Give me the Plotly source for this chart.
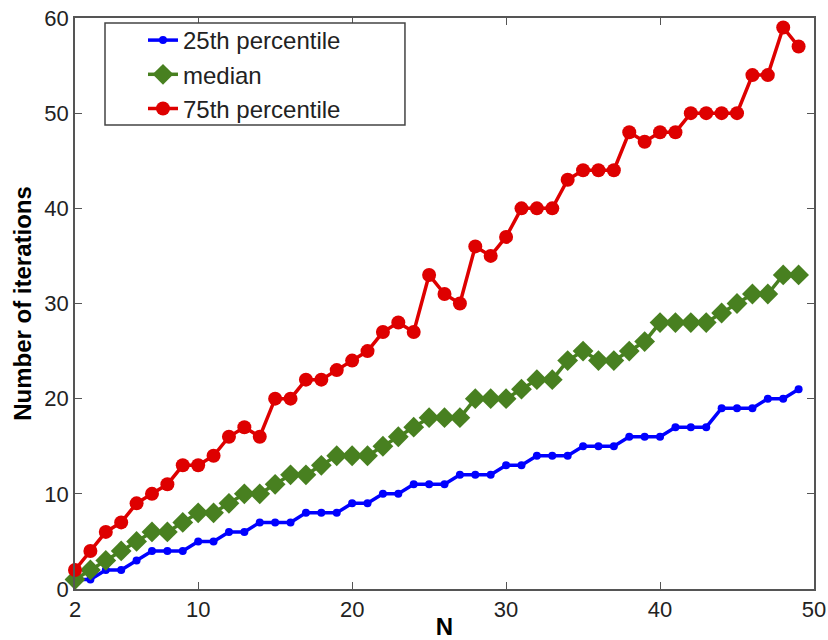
import plotly.graph_objects as go

N = list(range(2, 50))
p25 = [1, 1, 2, 2, 3, 4, 4, 4, 5, 5, 6, 6, 7, 7, 7, 8, 8, 8, 9, 9,
       10, 10, 11, 11, 11, 12, 12, 12, 13, 13, 14, 14, 14, 15, 15, 15, 16, 16,
       16, 17, 17, 17, 19, 19, 19, 20, 20, 21]
median = [1, 2, 3, 4, 5, 6, 6, 7, 8, 8, 9, 10, 10, 11, 12, 12, 13, 14, 14, 14,
          15, 16, 17, 18, 18, 18, 20, 20, 20, 21, 22, 22, 24, 25, 24, 24, 25, 26,
          28, 28, 28, 28, 29, 30, 31, 31, 33, 33]
p75 = [2, 4, 6, 7, 9, 10, 11, 13, 13, 14, 16, 17, 16, 20, 20, 22, 22, 23, 24, 25,
       27, 28, 27, 33, 31, 30, 36, 35, 37, 40, 40, 40, 43, 44, 44, 44, 48, 47,
       48, 48, 50, 50, 50, 50, 54, 54, 59, 57]

xticks = [2, 10, 20, 30, 40, 50]
yticks = [0, 10, 20, 30, 40, 50, 60]

BLUE = "rgb(0,0,255)"
GREEN = "rgb(72,128,32)"
RED = "rgb(222,0,0)"
FONT = "Liberation Sans, Arial, Helvetica"

fig = go.Figure()
fig.add_trace(go.Scatter(x=N, y=p25, mode="lines+markers", name="25th percentile",
                         line=dict(color=BLUE, width=3.5),
                         marker=dict(symbol="circle", size=8, color=BLUE),
                         cliponaxis=False))
fig.add_trace(go.Scatter(x=N, y=median, mode="lines+markers", name="median",
                         line=dict(color=GREEN, width=3.5),
                         marker=dict(symbol="diamond", size=16, color=GREEN),
                         cliponaxis=False))
fig.add_trace(go.Scatter(x=N, y=p75, mode="lines+markers", name="75th percentile",
                         line=dict(color=RED, width=3.5),
                         marker=dict(symbol="circle", size=14, color=RED),
                         cliponaxis=False))

axis_common = dict(showline=True, linecolor="#555", linewidth=1.5, mirror="ticks",
                   ticks="inside", ticklen=7, tickcolor="#555", showgrid=False,
                   zeroline=False, automargin=False,
                   tickfont=dict(family=FONT, size=22, color="#222"))

fig.update_xaxes(range=[2, 50], tickvals=xticks, ticktext=[str(v) for v in xticks],
                 title=dict(text="<b>N</b>", font=dict(family=FONT, size=24, color="#000"),
                            standoff=4),
                 **axis_common)
fig.update_yaxes(range=[0, 60], tickvals=yticks, ticktext=[str(v) for v in yticks],
                 title=dict(text="<b>Number of iterations</b>", font=dict(family=FONT, size=24, color="#000"),
                            standoff=6),
                 **axis_common)

# legend frame (MATLAB-style box)
fig.add_shape(type="rect", xref="paper", yref="paper",
              x0=0.0406, x1=0.4465, y0=0.8126, y1=0.9912,
              line=dict(color="#444", width=1.5), fillcolor="white", layer="above")

fig.update_layout(
    width=828, height=640,
    margin=dict(l=75, r=14, t=18, b=51),
    plot_bgcolor="white", paper_bgcolor="white",
    legend=dict(x=0.092, y=1.0, xanchor="left", yanchor="top",
                borderwidth=0, bgcolor="rgba(0,0,0,0)",
                font=dict(family=FONT, size=24, color="#222"),
                tracegroupgap=0),
    showlegend=True,
)

fig.write_html("out.html")
